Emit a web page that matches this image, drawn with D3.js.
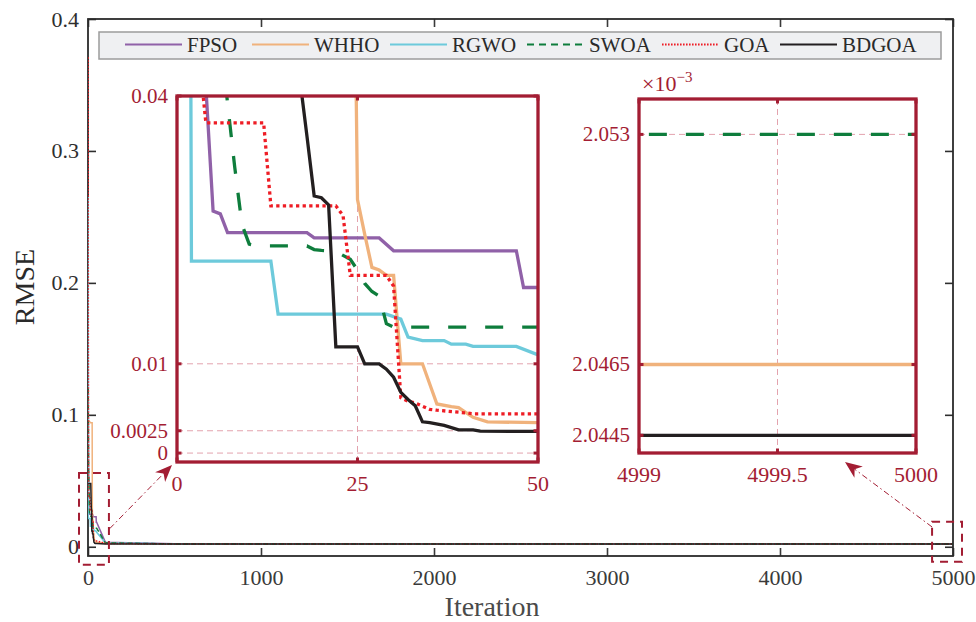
<!DOCTYPE html>
<html>
<head>
<meta charset="utf-8">
<script src="https://cdn.jsdelivr.net/npm/d3@7"></script>
<style>
  body { margin: 0; background: #fff; }
  svg text { font-family: "Liberation Serif", "DejaVu Serif", serif; }
</style>
</head>
<body>
<svg id="chart" width="976" height="622"></svg>
<script>
// ---- data (RMSE per iteration) ----
const seriesNames = ['FPSO', 'WHHO', 'RGWO', 'SWOA', 'GOA', 'BDGOA'];

const fpsoIter = [1, 2, 3, 4, 5, 6, 7, 18, 19, 28, 30, 47, 48, 50, 100, 500, 1500, 4999, 5000];
const fpsoRmse = [0.22, 0.1, 0.06, 0.041, 0.0271, 0.0268, 0.0247, 0.0247, 0.0241, 0.0241, 0.02266, 0.02266, 0.01855, 0.01855, 0.0035, 0.0023, 0.0022, 0.00215, 0.00215];

const whhoIter = [1, 15, 24, 25, 26, 27, 28, 29, 30, 31, 34, 36, 38, 39, 41, 43, 50, 100, 500, 2000, 4999, 5000];
const whhoRmse = [0.096, 0.094, 0.094, 0.0284, 0.0245, 0.0208, 0.0205, 0.0199, 0.0199, 0.0100, 0.0100, 0.0055, 0.0052, 0.0051, 0.0040, 0.0035, 0.0034, 0.0024, 0.0021, 0.00205, 0.0020465, 0.0020465];

const rgwoIter = [1, 2, 13, 14, 29, 31, 32, 34, 37, 38, 40, 41, 47, 50, 100, 500, 4999, 5000];
const rgwoRmse = [0.265, 0.0215, 0.0215, 0.01557, 0.01557, 0.0150, 0.0130, 0.0126, 0.0126, 0.0122, 0.0122, 0.01195, 0.01195, 0.0110, 0.0030, 0.0021, 0.00208, 0.00208];

const swoaIter = [1, 3, 6, 7, 8, 9, 10, 11, 18, 19, 20, 22, 24, 25, 26, 27, 28, 29, 30, 50, 100, 500, 4999, 5000];
const swoaRmse = [0.12, 0.06, 0.047, 0.0392, 0.032, 0.0256, 0.0234, 0.0232, 0.0232, 0.0228, 0.0227, 0.0226, 0.0217, 0.0205, 0.0190, 0.0181, 0.0176, 0.0145, 0.0141, 0.0141, 0.0030, 0.0021, 0.002053, 0.002053];

const goaIter = [1, 2, 3, 4, 12, 13, 22, 23, 24, 29, 30, 31, 32, 33, 35, 36, 40, 41, 50, 100, 500, 4999, 5000];
const goaRmse = [0.371, 0.15, 0.045, 0.037, 0.037, 0.0277, 0.0277, 0.0266, 0.0199, 0.0199, 0.0187, 0.0062, 0.0058, 0.0056, 0.0049, 0.0048, 0.0045, 0.0044, 0.0044, 0.0026, 0.0021, 0.00212, 0.00212];

const bdgoaIter = [1, 16, 17, 18, 19, 20, 21, 22, 25, 26, 28, 29, 30, 31, 32, 33, 34, 35, 37, 39, 41, 42, 50, 100, 500, 4999, 5000];
const bdgoaRmse = [0.048, 0.048, 0.042, 0.0355, 0.0288, 0.0286, 0.0278, 0.0119, 0.0119, 0.0100, 0.0100, 0.0094, 0.0085, 0.0068, 0.0060, 0.0053, 0.0035, 0.0034, 0.0031, 0.0026, 0.0026, 0.00245, 0.00243, 0.0021, 0.00205, 0.0020445, 0.0020445];

const iterLists = [fpsoIter, whhoIter, rgwoIter, swoaIter, goaIter, bdgoaIter];
const rmseLists = [fpsoRmse, whhoRmse, rgwoRmse, swoaRmse, goaRmse, bdgoaRmse];

const mainXTicks = [0, 1000, 2000, 3000, 4000, 5000];
const mainYTicks = [0, 0.1, 0.2, 0.3, 0.4];
const zoom1XTicks = [0, 25, 50];
const zoom1YTicks = [0, 0.0025, 0.01, 0.04];
const zoom2XTicks = [4999, 4999.5, 5000];
const zoom2YTicks = [2.0445, 2.0465, 2.053]; // x 10^-3

// ---- styles ----
const colors = ['#9061a8', '#f0b27c', '#6dcadb', '#0e7d3c', '#ee1d25', '#231f20'];
const mainDash = [null, null, null, '5,3', '1.5,1.5', null];
const insetDash = [null, null, null, '18,19', '3.3,3.3', null];
const legendDash = [null, null, null, '7,5', '1.6,1.4', null];
const wine = '#a31d33';
const gridPink = '#e3a3ae';

const series = seriesNames.map((name, i) => ({
  name,
  color: colors[i],
  points: iterLists[i].map((it, k) => ({ it, v: rmseLists[i][k] }))
}));

const svg = d3.select('#chart');
const defs = svg.append('defs');

// ---- main axes ----
const x = d3.scaleLinear().domain([0, 5000]).range([88, 953]);
const y = d3.scaleLinear().domain([-0.007, 0.4]).range([556, 19]);

defs.append('clipPath').attr('id', 'clipMain')
  .append('rect').attr('x', 88).attr('y', 19).attr('width', 865).attr('height', 537);

function styleAxis(g, color, size) {
  g.select('.domain').remove();
  g.selectAll('.tick line').attr('stroke', color).attr('stroke-width', 1.6);
  g.selectAll('.tick text').attr('fill', color).style('font-size', size + 'px');
}

svg.append('g').attr('transform', 'translate(0,556)')
  .call(d3.axisBottom(x).tickValues(mainXTicks).tickSize(-8).tickPadding(13).tickFormat(d3.format('d')))
  .call(g => styleAxis(g, '#3a3a3a', 22));
svg.append('g').attr('transform', 'translate(0,19)')
  .call(d3.axisTop(x).tickValues(mainXTicks).tickSize(-8).tickFormat(''))
  .call(g => styleAxis(g, '#3a3a3a', 22));
svg.append('g').attr('transform', 'translate(88,0)')
  .call(d3.axisLeft(y).tickValues(mainYTicks).tickSize(-8).tickPadding(9).tickFormat(d => d === 0 ? '0' : d3.format('.1f')(d)))
  .call(g => styleAxis(g, '#2e2e2e', 22));
svg.append('g').attr('transform', 'translate(953,0)')
  .call(d3.axisRight(y).tickValues(mainYTicks).tickSize(-8).tickFormat(''))
  .call(g => styleAxis(g, '#2e2e2e', 22));

svg.append('rect').attr('x', 88).attr('y', 19).attr('width', 865).attr('height', 537)
  .attr('fill', 'none').attr('stroke', '#2b2b2b').attr('stroke-width', 1.8);

svg.append('text').attr('x', 492).attr('y', 616).attr('text-anchor', 'middle')
  .attr('fill', '#4a4a4a').style('font-size', '28px').text('Iteration');
svg.append('text').attr('transform', 'translate(34,287) rotate(-90)').attr('text-anchor', 'middle')
  .attr('fill', '#2a2a2a').style('font-size', '28px').text('RMSE');

const mainLines = svg.append('g').attr('clip-path', 'url(#clipMain)');
series.forEach((s, i) => {
  mainLines.append('path')
    .datum(s.points)
    .attr('fill', 'none')
    .attr('stroke', s.color)
    .attr('stroke-width', 1.5)
    .attr('stroke-dasharray', mainDash[i])
    .attr('d', d3.line().x(d => x(d.it)).y(d => y(d.v)));
});

// zoom boxes on the main plot (data units)
const zoomBoxes = [
  { it: [-52, 121], v: [0.056, -0.0137] },
  { it: [4879, 5052], v: [0.019, -0.0114] }
];
zoomBoxes.forEach(b => {
  svg.append('rect')
    .attr('x', x(b.it[0])).attr('y', y(b.v[0]))
    .attr('width', x(b.it[1]) - x(b.it[0])).attr('height', y(b.v[1]) - y(b.v[0]))
    .attr('fill', 'none').attr('stroke', wine).attr('stroke-width', 2)
    .attr('stroke-dasharray', '8,6');
});

// ---- legend ----
const legend = svg.append('g');
legend.append('rect').attr('x', 99).attr('y', 32).attr('width', 842).attr('height', 27)
  .attr('fill', '#eff0f2').attr('stroke', '#9c9c9c').attr('stroke-width', 1.5);
const legendX = [125, 252, 390, 527, 662, 780];
series.forEach((s, i) => {
  legend.append('line').attr('x1', legendX[i]).attr('x2', legendX[i] + 57)
    .attr('y1', 44.5).attr('y2', 44.5)
    .attr('stroke', s.color).attr('stroke-width', 2)
    .attr('stroke-dasharray', legendDash[i]);
  legend.append('text').attr('x', legendX[i] + 62).attr('y', 51.5)
    .attr('fill', '#2a2a2a').style('font-size', '21px').text(s.name);
});

// ---- inset helper ----
function drawInset(id, xs, ys, xTicks, yTicks, yFmt, xFmt, valueScale) {
  const [x0, x1] = xs.range();
  const [y1, y0] = ys.range();
  defs.append('clipPath').attr('id', id)
    .append('rect').attr('x', x0).attr('y', y0).attr('width', x1 - x0).attr('height', y1 - y0);
  const g = svg.append('g');
  g.append('rect').attr('x', x0).attr('y', y0).attr('width', x1 - x0).attr('height', y1 - y0)
    .attr('fill', '#fff');

  // grid
  const [dx0, dx1] = xs.domain();
  const [dy0, dy1] = ys.domain();
  g.selectAll('.hgrid').data(yTicks.filter(t => t > dy0 && t < dy1)).enter().append('line')
    .attr('x1', x0).attr('x2', x1).attr('y1', d => ys(d)).attr('y2', d => ys(d))
    .attr('stroke', gridPink).attr('stroke-width', 1).attr('stroke-dasharray', '6,4');
  g.selectAll('.vgrid').data(xTicks.filter(t => t > dx0 && t < dx1)).enter().append('line')
    .attr('x1', d => xs(d)).attr('x2', d => xs(d)).attr('y1', y0).attr('y2', y1)
    .attr('stroke', gridPink).attr('stroke-width', 1).attr('stroke-dasharray', '6,4');

  // lines
  const lg = g.append('g').attr('clip-path', `url(#${id})`);
  series.forEach((s, i) => {
    const pts = s.points;
    const keep = pts.filter((p, k) => {
      const prev = pts[k - 1], next = pts[k + 1];
      return (p.it >= dx0 && p.it <= dx1) ||
        (next && next.it >= dx0 && p.it < dx0) ||
        (prev && prev.it <= dx1 && p.it > dx1);
    });
    lg.append('path').datum(keep)
      .attr('fill', 'none')
      .attr('stroke', s.color)
      .attr('stroke-width', 3.3)
      .attr('stroke-dasharray', insetDash[i])
      .attr('d', d3.line().x(d => xs(d.it)).y(d => ys(d.v * valueScale)));
  });

  // ticks
  const tk = 4.5;
  yTicks.forEach(t => {
    g.append('line').attr('x1', x0).attr('x2', x0 + tk).attr('y1', ys(t)).attr('y2', ys(t))
      .attr('stroke', wine).attr('stroke-width', 3);
    g.append('line').attr('x1', x1).attr('x2', x1 - tk).attr('y1', ys(t)).attr('y2', ys(t))
      .attr('stroke', wine).attr('stroke-width', 3);
  });
  xTicks.forEach(t => {
    g.append('line').attr('x1', xs(t)).attr('x2', xs(t)).attr('y1', y1).attr('y2', y1 - tk)
      .attr('stroke', wine).attr('stroke-width', 3);
    g.append('line').attr('x1', xs(t)).attr('x2', xs(t)).attr('y1', y0).attr('y2', y0 + tk)
      .attr('stroke', wine).attr('stroke-width', 3);
  });

  // frame
  g.append('rect').attr('x', x0).attr('y', y0).attr('width', x1 - x0).attr('height', y1 - y0)
    .attr('fill', 'none').attr('stroke', wine).attr('stroke-width', 3.3);

  // labels
  g.selectAll('.ylab').data(yTicks).enter().append('text')
    .attr('x', x0 - 9).attr('y', d => ys(d)).attr('dy', '0.33em')
    .attr('text-anchor', 'end').attr('fill', wine).style('font-size', '21px')
    .text(yFmt);
  g.selectAll('.xlab').data(xTicks).enter().append('text')
    .attr('x', d => xs(d)).attr('y', y1 + 29)
    .attr('text-anchor', 'middle').attr('fill', wine).style('font-size', '22px')
    .text(xFmt);
  return g;
}

// inset 1: first 50 iterations
const xi = d3.scaleLinear().domain([0, 50]).range([177, 538]);
const yi = d3.scaleLinear().domain([-0.001, 0.04]).range([462, 96]);
drawInset('clipZoom1', xi, yi, zoom1XTicks, zoom1YTicks,
  d => d === 0 ? '0' : String(d), d => String(d), 1);

// inset 2: last iteration, values in 10^-3
const xj = d3.scaleLinear().domain([4999, 5000]).range([639, 916]);
const yj = d3.scaleLinear().domain([2.044, 2.054]).range([453, 99]);
const inset2 = drawInset('clipZoom2', xj, yj, zoom2XTicks, zoom2YTicks,
  d => String(d), d => String(d), 1000);
const expo = inset2.append('text').attr('x', 642).attr('y', 91).attr('fill', wine).style('font-size', '22px');
expo.append('tspan').text('\u00d710');
expo.append('tspan').attr('dy', -9).style('font-size', '15px').text('\u22123');

// ---- arrows ----
function arrow(x1, y1, x2, y2) {
  const ang = Math.atan2(y2 - y1, x2 - x1);
  const L = 17, W = 7, N = 12;
  const ux = Math.cos(ang), uy = Math.sin(ang);
  const px = -uy, py = ux;
  const bx = x2 - ux * L, by = y2 - uy * L;
  const nx = x2 - ux * N, ny = y2 - uy * N;
  svg.append('line').attr('x1', x1).attr('y1', y1).attr('x2', nx).attr('y2', ny)
    .attr('stroke', wine).attr('stroke-width', 1)
    .attr('stroke-dasharray', '6,3,1.5,3');
  svg.append('path')
    .attr('d', `M${x2},${y2}L${bx + px * W},${by + py * W}L${nx},${ny}L${bx - px * W},${by - py * W}Z`)
    .attr('fill', wine);
}
arrow(x(125), y(0.0137), xi.range()[0] - 5, yi.range()[0] + 3);
arrow(x(4879), y(0.015), 845, yj.range()[0] + 9);
</script>
</body>
</html>
